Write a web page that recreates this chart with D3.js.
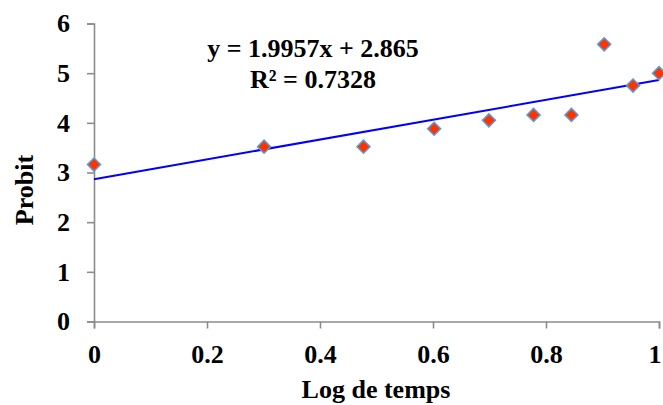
<!DOCTYPE html>
<html><head><meta charset="utf-8">
<script src="https://cdn.jsdelivr.net/npm/d3@7"></script>
<style>body{margin:0;background:#fff}svg{display:block}</style>
</head><body>
<svg id="c" width="663" height="405"></svg>
<script>
const logTime = [0, 0.301, 0.477, 0.602, 0.699, 0.778, 0.845, 0.903, 0.954, 1.0];
const probit = [3.16, 3.52, 3.52, 3.88, 4.05, 4.16, 4.16, 5.58, 4.75, 5.0];
const xTicks = [0, 0.2, 0.4, 0.6, 0.8, 1];
const yTicks = [0, 1, 2, 3, 4, 5, 6];
const slope = 1.9957, intercept = 2.865;
const eqLines = ["y = 1.9957x + 2.865", "R² = 0.7328"];

const svg = d3.select("#c");
const font = "'Liberation Serif','Times New Roman',serif";
const fs = "26px";
const x = d3.scaleLinear().domain([0, 1]).range([94, 659]);
const y = d3.scaleLinear().domain([0, 6]).range([321.5, 23.5]);
const axisColor = "#8c8c8c";

const gx = svg.append("g").attr("transform", `translate(0,${y(0)})`)
  .call(d3.axisBottom(x).tickValues(xTicks).tickSize(7).tickPadding(16)
    .tickFormat(d => d === 0 ? "0" : d === 1 ? "1" : d3.format(".1f")(d)));
const gy = svg.append("g").attr("transform", `translate(${x(0)},0)`)
  .call(d3.axisLeft(y).tickValues(yTicks).tickSize(7).tickPadding(17).tickFormat(d3.format("d")));
[gx, gy].forEach(g => {
  g.select(".domain").attr("stroke", axisColor).attr("stroke-width", 1.6);
  g.selectAll(".tick line").attr("stroke", axisColor).attr("stroke-width", 1.6);
  g.selectAll(".tick text").attr("fill", "#000").style("font-family", font)
    .style("font-weight", "bold").style("font-size", fs);
});
// keep the last x label inside the frame
gx.selectAll(".tick text").filter(d => d === 1).attr("text-anchor", "end").attr("dx", "2");

// trendline
svg.append("line")
  .attr("x1", x(0)).attr("y1", y(intercept))
  .attr("x2", x(1)).attr("y2", y(intercept + slope))
  .attr("stroke", "#0000ff").attr("stroke-width", 2);

// markers
const sym = d3.symbol().type(d3.symbolSquare).size(85);
svg.append("g").selectAll("path").data(logTime.map((t, i) => [t, probit[i]]))
  .join("path")
  .attr("d", sym)
  .attr("transform", d => `translate(${x(d[0])},${y(d[1])}) rotate(45)`)
  .attr("fill", "#ff3300").attr("stroke", "#5b9bd5").attr("stroke-width", 1.5);

// equation
svg.append("g").selectAll("text").data(eqLines).join("text")
  .attr("x", 313).attr("y", (d, i) => 57 + i * 31)
  .attr("text-anchor", "middle")
  .style("font-family", font).style("font-weight", "bold").style("font-size", fs)
  .text(d => d);

// axis titles
svg.append("text").attr("x", 376).attr("y", 398).attr("text-anchor", "middle")
  .style("font-family", font).style("font-weight", "bold").style("font-size", fs)
  .text("Log de temps");
svg.append("text").attr("transform", "translate(33,190) rotate(-90)").attr("text-anchor", "middle")
  .style("font-family", font).style("font-weight", "bold").style("font-size", fs)
  .text("Probit");
</script>
</body></html>
